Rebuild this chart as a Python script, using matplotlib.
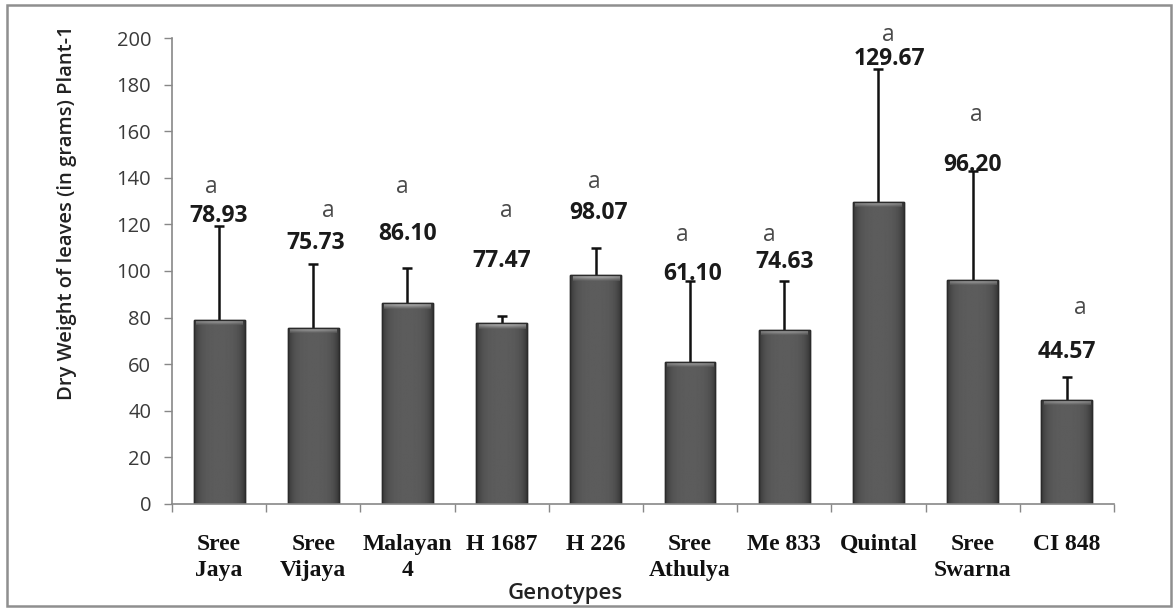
import numpy as np
import matplotlib
matplotlib.use("Agg")
import matplotlib.pyplot as plt
from matplotlib.patches import Rectangle

# Dry weight of leaves per plant (g) for each genotype
genotypes = ["Sree\nJaya", "Sree\nVijaya", "Malayan\n4", "H 1687", "H 226",
             "Sree\nAthulya", "Me 833", "Quintal", "Sree\nSwarna", "CI 848"]
dry_weight = [78.93, 75.73, 86.10, 77.47, 98.07, 61.10, 74.63, 129.67, 96.20, 44.57]
std_error = [40.4, 27.3, 15.2, 3.2, 11.9, 34.6, 21.0, 56.9, 46.7, 10.0]
letters = ["a"] * 10
yticks = list(range(0, 201, 20))

# placement of the value labels and significance letters (data units / x offsets)
label_y = [123.6, 112.0, 115.9, 104.4, 124.8, 98.6, 104.0, 191.0, 145.5, 65.4]
label_dx = [0.0, 0.03, 0.0, 0.0, 0.03, 0.03, 0.0, 0.12, 0.0, 0.0]
letter_y = [136.2, 125.9, 136.2, 125.9, 138.0, 115.5, 115.5, 201.3, 167.0, 84.0]
letter_dx = [-0.08, 0.16, -0.06, 0.05, -0.02, -0.08, -0.16, 0.11, 0.04, 0.14]

fig = plt.figure(figsize=(11.75, 6.12), dpi=100)
fig.patch.set_facecolor("white")
fig.add_artist(Rectangle((0.006, 0.010), 0.991, 0.982, transform=fig.transFigure,
                         fill=False, edgecolor="#8f8f8f", linewidth=1.8))

ax = fig.add_axes([0.1464, 0.1765, 0.8016, 0.7614])
x = np.arange(len(genotypes))
width = 0.54

bars = ax.bar(x, dry_weight, width=width, color="#505050", edgecolor="#2b2b2b",
              linewidth=1.0, zorder=2)

# cylinder-like shading inside each bar
grad = np.linspace(-1, 1, 64)
shade = 0.22 + 0.14 * (1 - grad ** 4)
body_img = np.tile(shade, (2, 1))
for b in bars:
    x0, w, h = b.get_x(), b.get_width(), b.get_height()
    im = ax.imshow(body_img, cmap="gray", vmin=0, vmax=1, aspect="auto",
                   extent=(x0, x0 + w, 0, h), zorder=2.1, interpolation="bilinear")
    im.set_clip_path(b)
    # light bevel at the top of the bar
    bevel = np.linspace(0.38, 0.75, 8)[:, None] * np.ones((1, 64))
    bevel = bevel * (0.85 + 0.15 * (1 - grad ** 2))
    im2 = ax.imshow(bevel, cmap="gray", vmin=0, vmax=1, aspect="auto",
                    extent=(x0 + 0.025, x0 + w - 0.025, h - 2.2, h), origin="lower",
                    zorder=2.2, interpolation="bilinear")
    im2.set_clip_path(b)
    ax.add_patch(Rectangle((x0, 0), w, h, fill=False, edgecolor="#2b2b2b",
                           linewidth=1.0, zorder=2.3))

# upper error bars only
eb = ax.errorbar(x, dry_weight, yerr=[np.zeros(len(x)), std_error], fmt="none",
                 ecolor="#111111", elinewidth=1.8, capsize=3.8, capthick=1.8, zorder=1.5)
for cl in eb[1]:
    if np.allclose(cl.get_ydata(), dry_weight):
        cl.set_visible(False)

for i in range(len(x)):
    ax.text(x[i] + label_dx[i], label_y[i], f"{dry_weight[i]:.2f}", ha="center",
            va="center", fontsize=16.5, fontweight="bold", family="Open Sans",
            color="#1a1a1a", zorder=4)
    ax.text(x[i] + letter_dx[i], letter_y[i], letters[i], ha="center", va="center",
            fontsize=16.5, family="Open Sans", color="#4a4a4a", zorder=4)

ax.set_xlim(-0.5, len(x) - 0.5)
ax.set_ylim(0, 200)
ax.set_yticks(yticks)
ax.set_yticklabels([str(t) for t in yticks], family="Open Sans", fontsize=14.5,
                   color="#3a3a3a")
ax.tick_params(axis="y", length=6, width=1, color="#888888", pad=9)

ax.set_xticks(np.arange(-0.5, len(x), 1.0))
ax.set_xticklabels([])
ax.tick_params(axis="x", length=6, width=1, color="#888888")
for i, g in enumerate(genotypes):
    ax.text(x[i], -12.8, g, ha="center", va="top", fontsize=17,
            family="Liberation Serif", fontweight="bold", linespacing=1.35,
            transform=ax.transData, color="#111111")

for s in ["top", "right"]:
    ax.spines[s].set_visible(False)
for s in ["left", "bottom"]:
    ax.spines[s].set_color("#888888")
    ax.spines[s].set_linewidth(1.2)

fig.text(0.481, 0.031, "Genotypes", ha="center", va="center", fontsize=16,
         fontweight="semibold", family="Open Sans", color="#222222")
fig.text(0.057, 0.652, "Dry Weight of leaves (in grams) Plant-1", rotation=90,
         ha="center", va="center", fontsize=14.5, fontweight="semibold",
         family="Open Sans", color="#222222")

fig.savefig("out.png", dpi=100, facecolor="white")
